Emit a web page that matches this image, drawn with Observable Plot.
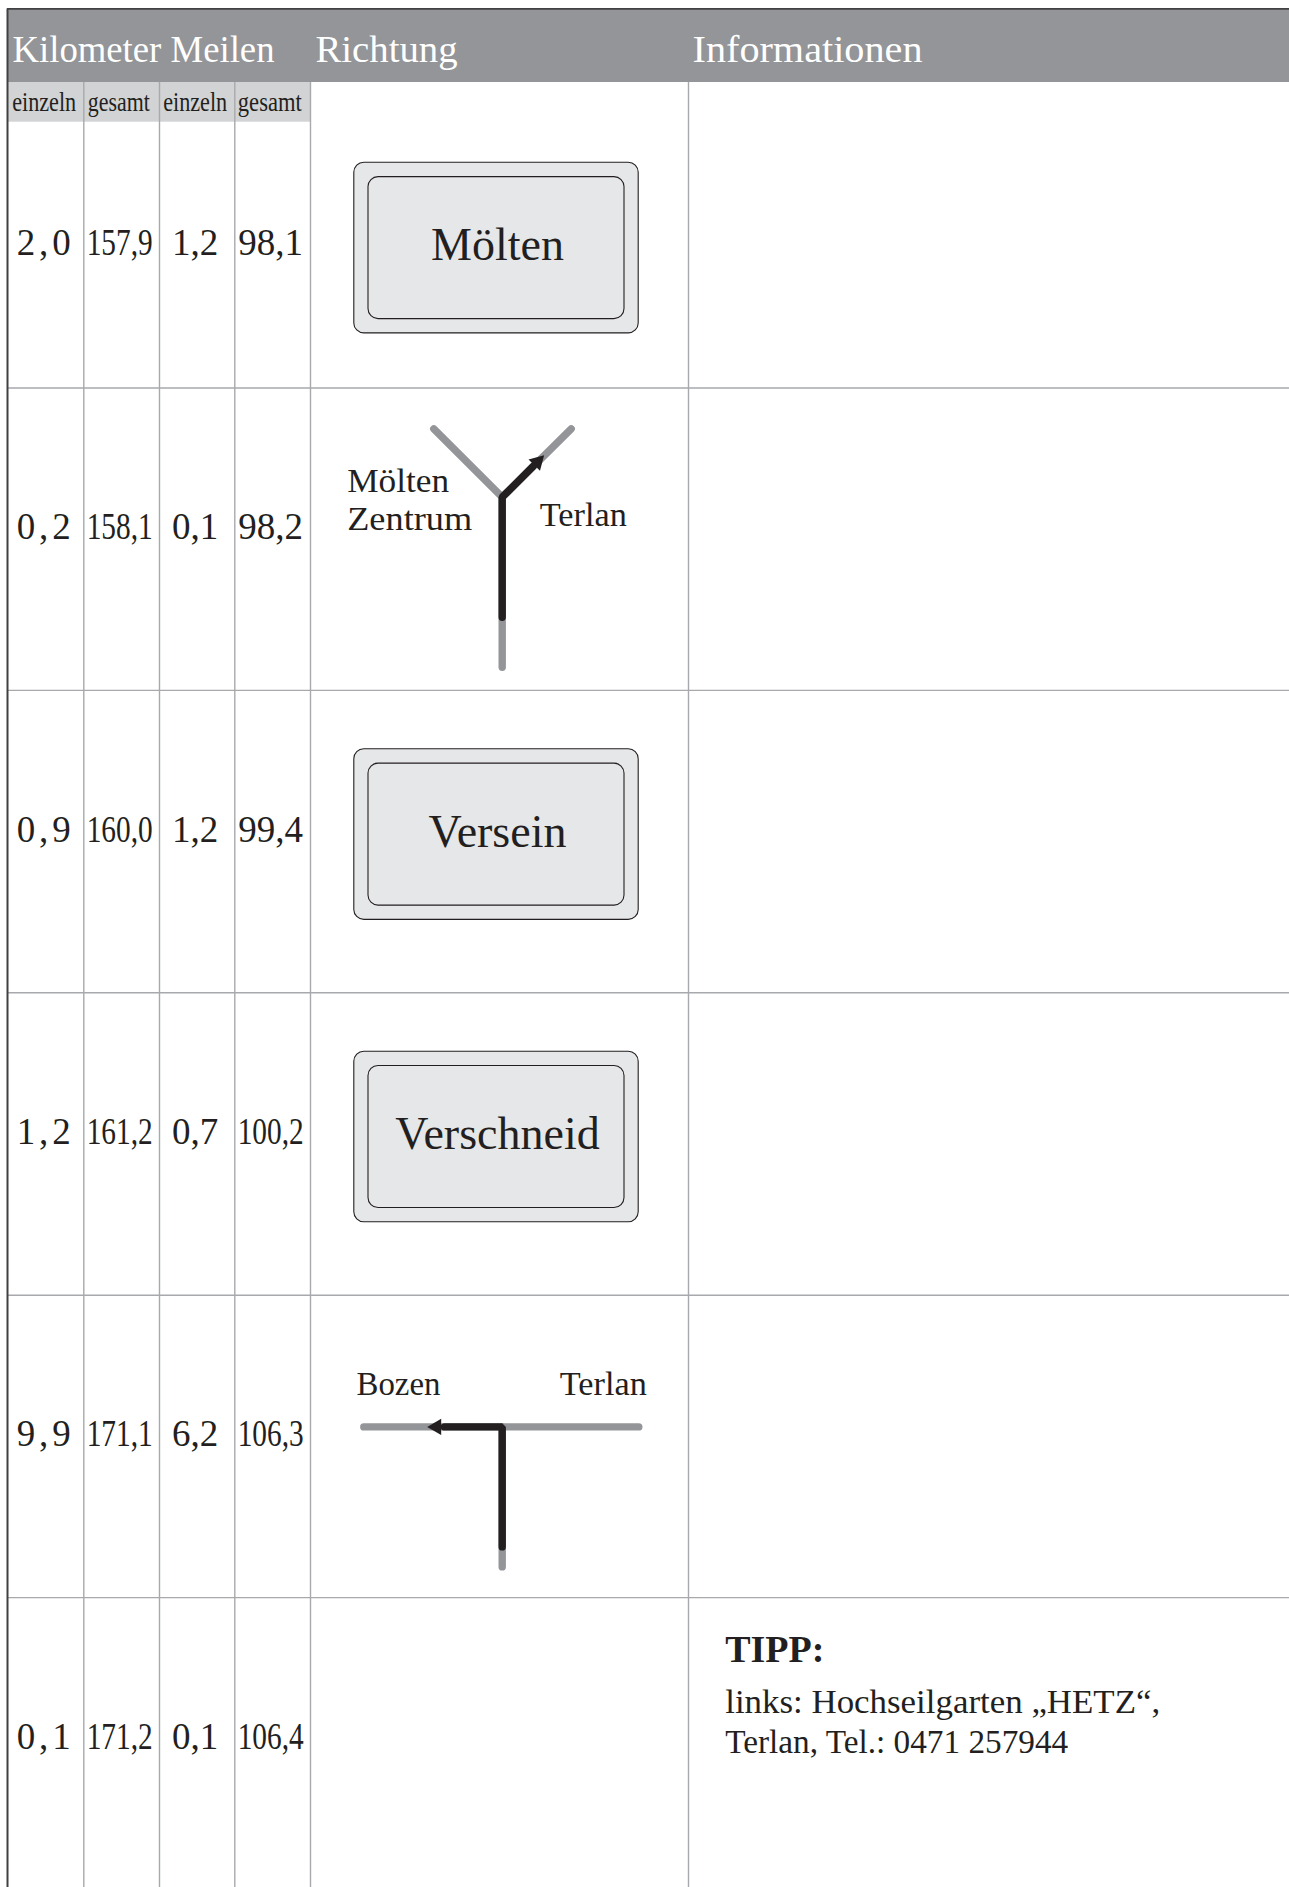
<!DOCTYPE html>
<html>
<head>
<meta charset="utf-8">
<script src="https://cdn.jsdelivr.net/npm/d3@7"></script>
<script src="https://cdn.jsdelivr.net/npm/@observablehq/plot@0.6"></script>
<style>
html, body { margin: 0; padding: 0; background: #fff; }
svg { display: block; }
</style>
</head>
<body>
<div id="chart"></div>
<script>
// ---------------- data ----------------
const kmEinzeln = [2.0, 0.2, 0.9, 1.2, 9.9, 0.1];
const kmGesamt  = [157.9, 158.1, 160.0, 161.2, 171.1, 171.2];
const miEinzeln = [1.2, 0.1, 1.2, 0.7, 6.2, 0.1];
const miGesamt  = [98.1, 98.2, 99.4, 100.2, 106.3, 106.4];
const headers = ["Kilometer Meilen", "Richtung", "Informationen"];
const subHeaders = ["einzeln", "gesamt", "einzeln", "gesamt"];
const signNames = ["Mölten", null, "Versein", "Verschneid", null, null];
const forkLabels = ["Mölten", "Zentrum", "Terlan"];
const teeLabels = ["Bozen", "Terlan"];
const tipTitle = "TIPP:";
const tipLines = ["links: Hochseilgarten „HETZ“,", "Terlan, Tel.: 0471 257944"];

// ---------------- layout ----------------
const W = 1289, H = 1887;
const ROW = 302.4, ROW0 = 85.1;
const HEAD_TOP = 8.4, HEAD_BOT = 82, SUB_BOT = 121.7, LEFT = 7;
const colEdges = [LEFT, 83.3, 159, 234.3, 310, 688, W];
const nRows = kmEinzeln.length;
const u = px => (px - ROW0) / ROW;           // absolute pixel -> row units
const rel = (i, px) => i + px / ROW;          // pixel offset inside row i -> row units
const rowCenter = i => i === 0 ? (u(SUB_BOT) + 1) / 2 : i + 0.5;
const fmt = v => v.toFixed(1).replace(".", ",");
const FONT = '"Liberation Serif", "Times New Roman", serif';
const INK = "#231f20", ROAD = "#939598", GRID = "#a7a9ac";

// header cells
const headerCells = headers.map((t, k) => ({t, x: [12, 315, 692][k], len: [262, 142, 230][k], adjust: "spacingAndGlyphs"}));
const subCells = subHeaders.map((t, k) => ({t, x: [11.7, 87.3, 162.7, 237.3][k], len: [64, 62, 64, 64][k], adjust: "spacingAndGlyphs"}));

// number cells
const numCells = [];
[kmEinzeln, kmGesamt, miEinzeln, miGesamt].forEach((arr, c) => {
  arr.forEach((v, i) => {
    const label = fmt(v);
    let len = null, adjust = null;
    if (c === 0) { len = 54; adjust = "spacing"; }
    else if (label.length >= 5) { len = 66; adjust = "spacingAndGlyphs"; }
    numCells.push({label, i, x: (colEdges[c] + colEdges[c + 1]) / 2 - 2, y: rowCenter(i), len, adjust});
  });
});

// sign boxes
const boxCx = 496, boxShift = -7;
const signs = signNames.map((name, i) => ({name, i})).filter(d => d.name);
const boxOuter = {hw: 142.2, hh: 85.3}, boxInner = {hw: 128, hh: 71};

// fork (row 1)
const FR = 1, JX = 501.7, FJ = 109.2, D = Math.SQRT1_2;
const forkGrey = [
  {x: 433.3, y: rel(FR, 40.8), z: "arms"}, {x: JX, y: rel(FR, FJ), z: "arms"}, {x: 570.7, y: rel(FR, 40.8), z: "arms"},
  {x: JX, y: rel(FR, FJ), z: "stem"}, {x: JX, y: rel(FR, 279.2), z: "stem"}
];
const forkBlack = [
  {x: JX, y: rel(FR, 229.2)}, {x: JX, y: rel(FR, FJ)}, {x: JX + 44 * D, y: rel(FR, FJ - 44 * D)}
];
const forkHead = [{x: JX + 50 * D, y: rel(FR, FJ - 50 * D), rot: 45}];
const forkText = forkLabels.map((t, k) => ({t, x: [346.7, 346.7, 539.3][k], y: rel(FR, [104.2, 141.5, 138.2][k]), len: [102, 125, 87][k], adjust: "spacingAndGlyphs"}));

// T junction (row 4)
const TR = 4, TY = 131.7;
const teeGrey = [
  {x: 363.3, y: rel(TR, TY), z: "h"}, {x: 638.3, y: rel(TR, TY), z: "h"},
  {x: JX, y: rel(TR, TY), z: "v"}, {x: JX, y: rel(TR, 271.7), z: "v"}
];
const teeBlack = [
  {x: JX, y: rel(TR, 251.7)}, {x: JX, y: rel(TR, TY)}, {x: 444, y: rel(TR, TY)}
];
const teeHead = [{x: 436, y: rel(TR, TY), rot: 270}];
const teeText = teeLabels.map((t, k) => ({t, x: [356, 559.3][k], y: rel(TR, 100), len: [84, 87][k], adjust: "spacingAndGlyphs"}));

// tip (row 5)
const IR = 5;
const tipHead = [{t: tipTitle, y: rel(IR, 64)}];
const tipBody = tipLines.map((t, k) => ({t, y: rel(IR, [115.7, 155.7][k]), len: [435, 343][k], adjust: "spacingAndGlyphs"}));

const txt = (data, opts, tag) => Plot.text(data, {textAnchor: "start", lineAnchor: "bottom", fill: INK, ariaDescription: tag, ...opts});

const chart = Plot.plot({
  width: W, height: H, margin: 0,
  x: {domain: [0, W], range: [0, W], axis: null},
  y: {domain: [0, nRows], range: [ROW0, ROW0 + nRows * ROW], axis: null},
  style: {background: "#fff", fontFamily: FONT, overflow: "hidden"},
  marks: [
    // header band
    Plot.rect([0], {x1: LEFT, x2: W, y1: u(HEAD_TOP), y2: u(HEAD_BOT), fill: ROAD}),
    // sub header band
    Plot.rect([0], {x1: LEFT, x2: colEdges[4], y1: u(HEAD_BOT), y2: u(SUB_BOT), fill: "#d1d3d4"}),
    // grid
    Plot.ruleX(colEdges.slice(1, 6), {x: d => d, y1: u(HEAD_BOT), y2: nRows, stroke: GRID, strokeWidth: 1.4}),
    Plot.ruleY(d3.range(1, nRows), {y: d => d, x1: LEFT, x2: W, stroke: GRID, strokeWidth: 1.4}),
    // borders
    Plot.ruleX([LEFT], {x: d => d, y1: u(HEAD_TOP), y2: nRows, stroke: "#414042", strokeWidth: 2}),
    Plot.ruleY([u(HEAD_TOP)], {y: d => d, x1: LEFT, x2: W, stroke: "#414042", strokeWidth: 1.6}),
    // header texts
    txt(headerCells, {x: "x", y: () => u(61), text: "t", fill: "#fff", fontSize: 37}, "headers"),
    txt(subCells, {x: "x", y: () => u(110), text: "t", fontSize: 28}, "subheaders"),
    // numbers
    txt(numCells, {x: "x", y: "y", text: "label", fontSize: 37, textAnchor: "middle"}, "numbers"),
    // sign boxes
    Plot.rect(signs, {x1: boxCx - boxOuter.hw, x2: boxCx + boxOuter.hw,
      y1: d => rowCenter(d.i) + (boxShift - boxOuter.hh) / ROW, y2: d => rowCenter(d.i) + (boxShift + boxOuter.hh) / ROW,
      rx: 10, fill: "#e6e7e8", stroke: INK, strokeWidth: 1.1}),
    Plot.rect(signs, {x1: boxCx - boxInner.hw, x2: boxCx + boxInner.hw,
      y1: d => rowCenter(d.i) + (boxShift - boxInner.hh) / ROW, y2: d => rowCenter(d.i) + (boxShift + boxInner.hh) / ROW,
      rx: 10, fill: "#e6e7e8", stroke: INK, strokeWidth: 1.1}),
    txt(signs, {x: boxCx + 1, y: d => rowCenter(d.i) + (boxShift + 12) / ROW, text: "name", fontSize: 46, textAnchor: "middle"}, "signs"),
    // fork
    Plot.line(forkGrey, {x: "x", y: "y", z: "z", stroke: ROAD, strokeWidth: 7.4, strokeLinecap: "round", strokeLinejoin: "round"}),
    Plot.line(forkBlack, {x: "x", y: "y", stroke: INK, strokeWidth: 7.4, strokeLinecap: "round", strokeLinejoin: "miter"}),
    Plot.dot(forkHead, {x: "x", y: "y", symbol: "triangle", r: 6, rotate: "rot", fill: INK, stroke: "none"}),
    txt(forkText, {x: "x", y: "y", text: "t", fontSize: 34}, "forktext"),
    // T junction
    Plot.line(teeGrey, {x: "x", y: "y", z: "z", stroke: ROAD, strokeWidth: 7.4, strokeLinecap: "round"}),
    Plot.line(teeBlack, {x: "x", y: "y", stroke: INK, strokeWidth: 7.4, strokeLinecap: "round", strokeLinejoin: "miter"}),
    Plot.dot(teeHead, {x: "x", y: "y", symbol: "triangle", r: 6, rotate: "rot", fill: INK, stroke: "none"}),
    txt(teeText, {x: "x", y: "y", text: "t", fontSize: 34}, "teetext"),
    // tip
    txt(tipHead, {x: 724.7, y: "y", text: "t", fontSize: 38, fontWeight: "bold"}, "tiphead"),
    txt(tipBody, {x: 724.7, y: "y", text: "t", fontSize: 34}, "tipbody")
  ]
});

function setLengths(tag, specs) {
  const g = chart.querySelector(`g[aria-description="${tag}"]`);
  if (!g) return;
  g.querySelectorAll("text").forEach((el, k) => {
    const s = specs[k];
    if (s && s.len) {
      el.setAttribute("textLength", s.len);
      el.setAttribute("lengthAdjust", s.adjust || "spacingAndGlyphs");
    }
  });
}
setLengths("headers", headerCells);
setLengths("subheaders", subCells);
setLengths("numbers", numCells);
setLengths("forktext", forkText);
setLengths("teetext", teeText);
setLengths("tipbody", tipBody);

document.getElementById("chart").appendChild(chart);
</script>
</body>
</html>
